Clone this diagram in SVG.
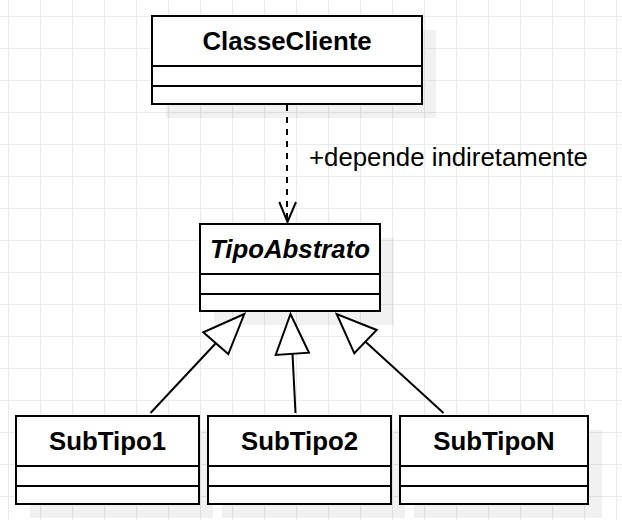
<svg xmlns="http://www.w3.org/2000/svg" width="622" height="520" viewBox="0 0 622 520">
<defs>
<pattern id="grid" x="8" y="16" width="32" height="32" patternUnits="userSpaceOnUse">
<path d="M0.5 0 V32 M0 0.5 H32" fill="none" stroke="#ebebeb" stroke-width="1.2"/>
</pattern>
</defs>
<style>
.box{fill:#fff;stroke:#000;stroke-width:2}
.div{stroke:#000;stroke-width:2}
.shadow{fill:#000;fill-opacity:0.055}
.t{font-family:"Liberation Sans",Arial,sans-serif;font-weight:bold;font-size:25.8px;text-anchor:middle;fill:#000}
.it{font-style:italic}
.lbl{font-family:"Liberation Sans",Arial,sans-serif;font-size:25.8px;fill:#000}
.edge{fill:none;stroke:#000;stroke-width:2}
.tri{fill:#fff;stroke:#000;stroke-width:2;stroke-linejoin:miter}
</style>
<rect width="622" height="520" fill="#fff"/>
<rect width="622" height="520" fill="url(#grid)"/>

<g id="ClasseCliente">
<rect class="shadow" x="166" y="30" width="270" height="88"/>
<rect class="box" x="152" y="16" width="270" height="88"/>
<line class="div" x1="152" y1="66" x2="422" y2="66"/>
<line class="div" x1="152" y1="86" x2="422" y2="86"/>
<text class="t" x="287" y="50">ClasseCliente</text>
</g>

<g id="TipoAbstrato">
<rect class="shadow" x="214" y="238" width="180" height="87"/>
<rect class="box" x="200" y="224" width="180" height="87"/>
<line class="div" x1="200" y1="274" x2="380" y2="274"/>
<line class="div" x1="200" y1="294" x2="380" y2="294"/>
<text class="t it" x="290" y="258">TipoAbstrato</text>
</g>

<g id="SubTipo1">
<rect class="shadow" x="30" y="430" width="183" height="88"/>
<rect class="box" x="16" y="416" width="183" height="88"/>
<line class="div" x1="16" y1="466" x2="199" y2="466"/>
<line class="div" x1="16" y1="486" x2="199" y2="486"/>
<text class="t" x="107.5" y="450">SubTipo1</text>
</g>

<g id="SubTipo2">
<rect class="shadow" x="222" y="430" width="183" height="88"/>
<rect class="box" x="208" y="416" width="183" height="88"/>
<line class="div" x1="208" y1="466" x2="391" y2="466"/>
<line class="div" x1="208" y1="486" x2="391" y2="486"/>
<text class="t" x="299.5" y="450">SubTipo2</text>
</g>

<g id="SubTipoN">
<rect class="shadow" x="414" y="430" width="188" height="88"/>
<rect class="box" x="400" y="416" width="188" height="88"/>
<line class="div" x1="400" y1="466" x2="588" y2="466"/>
<line class="div" x1="400" y1="486" x2="588" y2="486"/>
<text class="t" x="494" y="450">SubTipoN</text>
</g>

<g id="connectors">
<line class="edge" x1="287" y1="105" x2="287" y2="221" stroke-dasharray="6 6"/>
<polyline class="edge" points="279.3,202 287.5,222 296,202"/>
<text class="lbl" x="309" y="166">+depende indiretamente</text>

<line class="edge" x1="150.5" y1="413" x2="216" y2="343"/>
<polygon class="tri" points="244.3,314 203.3,332.3 228.3,354"/>

<line class="edge" x1="295.5" y1="413" x2="292.5" y2="354"/>
<polygon class="tri" points="290.5,314 275.7,355 309,352.7"/>

<line class="edge" x1="443.5" y1="413" x2="365.5" y2="341.7"/>
<polygon class="tri" points="336.7,314 354.3,353.3 376.7,330"/>
</g>
</svg>
